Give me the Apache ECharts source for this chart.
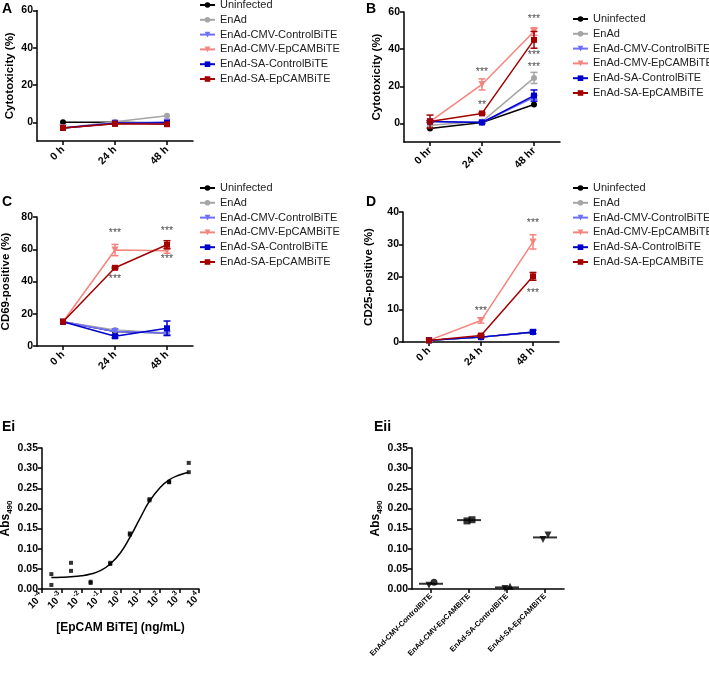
<!DOCTYPE html>
<html><head><meta charset="utf-8">
<script src="https://cdn.jsdelivr.net/npm/echarts@6/dist/echarts.min.js"></script>
<style>html,body{margin:0;padding:0;background:#fff}#c{width:709px;height:681px}</style>
</head><body><div id="c"></div>
<script>
// ---------- data ----------
const groups = ['Uninfected','EnAd','EnAd-CMV-ControlBiTE','EnAd-CMV-EpCAMBiTE','EnAd-SA-ControlBiTE','EnAd-SA-EpCAMBiTE'];
const timeH = ['0 h','24 h','48 h'];
const timeHr = ['0 hr','24 hr','48 hr'];

// Panel A: cytotoxicity (%)
const aMeans = [[0,0,-0.4],[-3,0.3,3.6],[-3,-0.5,0.2],[-3,-0.8,-0.5],[-3,-0.5,-0.2],[-3,-0.8,-1]];
const aErrs  = [[0,0,0],[0,0,0],[0,0,0],[0,0,0],[0,0,0],[0,0,0]];
// Panel B: cytotoxicity (%)
const bMeans = [[-2.7,0.5,10.2],[-1,1,24.5],[1,0.5,14],[1,21,49.5],[1,0.5,15],[1,5.4,45]];
const bErrs  = [[0,0,0],[0,0.5,3],[0,0,1],[0.5,3,2],[0.5,0.5,3],[3.5,0.5,4.5]];
// Panel C: CD69-positive (%)
const cMeans = [[15,9,8],[15,10,8],[15,9,8],[15,59.5,59],[15,6,11],[15,48.5,62.8]];
const cErrs  = [[0,0,0],[0,0.5,0],[0,0,1],[0,3.5,1.5],[0,1,4.5],[0,0.5,2.5]];
// Panel D: CD25-positive (%)
const dMeans = [[0.5,1.5,3],[0.5,1.5,3],[0.5,1.5,3],[0.5,6.6,30.8],[0.5,1.5,3.1],[0.5,2,20.2]];
const dErrs  = [[0,0,0],[0,0,0],[0,0,0],[0.3,0.8,2.2],[0,0.3,0.5],[0,0.3,1.2]];

// significance stars [category index, y, text]
const bStars = [[1,27.5,'***'],[1,10,'**'],[2,56,'***'],[2,37,'***'],[2,30.5,'***']];
const cStars = [[1,70,'***'],[1,41.3,'***'],[2,71,'***'],[2,53.7,'***']];
const dStars = [[1,9.4,'***'],[2,36.6,'***'],[2,15,'***']];

// Panel Ei: dose response
const eiConc   = [0.0003,0.0003,0.003,0.003,0.03,0.03,0.3,0.3,3,3,30,30,300,300,3000,3000];
const eiAbs    = [0.037,0.010,0.065,0.045,0.018,0.015,0.062,0.065,0.135,0.138,0.220,0.223,0.265,0.266,0.313,0.290];
const fitConc  = [0.0003,0.001,0.003,0.01,0.03,0.1,0.3,1,3,10,30,100,300,1000,3000];
const fitAbs   = [0.0286,0.0292,0.0303,0.0327,0.0371,0.0464,0.062,0.090,0.128,0.176,0.218,0.251,0.271,0.283,0.290];
const logTicks = [1e-4,1e-3,1e-2,1e-1,1,10,100,1000,10000];

// Panel Eii
const eiiCats = ['EnAd-CMV-ControlBiTE','EnAd-CMV-EpCAMBiTE','EnAd-SA-ControlBiTE','EnAd-SA-EpCAMBiTE'];
const eiiRep1 = [0.009,0.169,0.001,0.123];
const eiiRep2 = [0.017,0.172,0.007,0.134];
const eiiMean = [0.013,0.171,0.004,0.128];

// ---------- styles ----------
const TRI_DOWN = 'path://M0,0L10,0L5,9Z';
const TRI_UP = 'path://M5,0L10,9L0,9Z';
const colors = ['#000000','#a5a5a5','#6f6fff','#f4847e','#0000cc','#a30000'];
const symbols = ['circle','circle',TRI_DOWN,TRI_DOWN,'rect','rect'];
const symSizes = [6,6,7,7,6,6];
const FONT = 'Liberation Sans, Arial, sans-serif';

const grids = [
  {left:37, top:10.5, width:156, height:130.5},
  {left:404, top:12, width:156, height:130},
  {left:37, top:217, width:156, height:129},
  {left:403, top:212, width:156, height:130},
  {left:42, top:448, width:157, height:141},
  {left:412, top:448, width:152, height:141}
].map(g => Object.assign({outerBoundsMode:'none', containLabel:false}, g));

const axisLineStyle = {show:true, onZero:false, lineStyle:{color:'#000', width:1.5}};
const tickStyle = {show:true, length:4, lineStyle:{color:'#000', width:1.5}};
const tickLabel = {color:'#000', fontWeight:'bold', fontSize:10.5, fontFamily:FONT};

function catX(gi, cats){
  return {type:'category', gridIndex:gi, data:cats, boundaryGap:true,
    axisLine:axisLineStyle, axisTick:Object.assign({alignWithLabel:true}, tickStyle),
    axisLabel:Object.assign({rotate:45, margin:7, interval:0}, tickLabel), splitLine:{show:false}};
}
function valY(gi, min, max, ticks, name, gap){
  return {type:'value', gridIndex:gi, min:min, max:max,
    axisLine:axisLineStyle, axisTick:Object.assign({customValues:ticks}, tickStyle),
    axisLabel:Object.assign({customValues:ticks, margin:4}, tickLabel), splitLine:{show:false},
    name:name, nameLocation:'middle', nameRotate:90, nameGap:gap,
    nameTextStyle:{color:'#000', fontWeight:'bold', fontSize:11.5, fontFamily:FONT}};
}

const xAxes = [catX(0,timeH), catX(1,timeHr), catX(2,timeH), catX(3,timeH),
  {type:'log', gridIndex:4, logBase:10, min:1e-4, max:1e4,
   axisLine:axisLineStyle, axisTick:Object.assign({customValues:logTicks}, tickStyle),
   axisLabel:{customValues:logTicks, rotate:45, margin:6,
     formatter:v => '{b|10}{s|' + Math.round(Math.log10(v)) + '}',
     rich:{b:{fontSize:10, fontWeight:'bold', color:'#000', fontFamily:FONT},
           s:{fontSize:7, fontWeight:'bold', color:'#000', fontFamily:FONT, padding:[0,0,9,0]}}},
   splitLine:{show:false}, minorTick:{show:false},
   name:'[EpCAM BiTE] (ng/mL)', nameLocation:'middle', nameGap:33,
   nameTextStyle:{color:'#000', fontWeight:'bold', fontSize:12, fontFamily:FONT}},
  Object.assign(catX(5,eiiCats), {axisLabel:Object.assign({rotate:45, margin:6, interval:0}, tickLabel, {fontSize:7.5})})
];
const absTicks = [0,0.05,0.10,0.15,0.20,0.25,0.30,0.35];
function absY(gi, gap){
  const y = valY(gi, 0, 0.35, absTicks, '{a|Abs}{s|490}', gap);
  y.axisLabel.formatter = v => v.toFixed(2);
  y.nameTextStyle.rich = {a:{fontSize:12, fontWeight:'bold', color:'#000', fontFamily:FONT},
                          s:{fontSize:8, fontWeight:'bold', color:'#000', fontFamily:FONT, padding:[7,0,0,0]}};
  return y;
}
const yAxes = [
  valY(0,-10,60,[0,20,40,60],'Cytotoxicity (%)',21),
  valY(1,-10,60,[0,20,40,60],'Cytotoxicity (%)',21),
  valY(2,0,80,[0,20,40,60,80],'CD69-positive (%)',25),
  valY(3,0,40,[0,10,20,30,40],'CD25-positive (%)',28),
  absY(4,28), absY(5,26)
];

const series = [];
function addPanel(gi, means, errs){
  groups.forEach((g, i) => {
    series.push({type:'line', name:g, xAxisIndex:gi, yAxisIndex:gi, data:means[i],
      symbol:symbols[i], symbolSize:symSizes[i], showAllSymbol:true,
      lineStyle:{color:colors[i], width:1.5}, itemStyle:{color:colors[i]}, z:2+i*0.01,
      emphasis:{disabled:true}, animation:false});
    const errData = means[i].map((m, k) => [k, m, errs[i][k]]).filter(d => d[2] > 0);
    series.push({type:'custom', name:'err'+gi+'-'+i, xAxisIndex:gi, yAxisIndex:gi, data:errData,
      z:2+i*0.01, animation:false, silent:true,
      renderItem:(params, api) => {
        const x = api.value(0), m = api.value(1), e = api.value(2);
        const top = api.coord([x, m + e]), bot = api.coord([x, m - e]);
        const w = 3.5, st = {stroke:colors[i], lineWidth:1.5};
        return {type:'group', children:[
          {type:'line', shape:{x1:top[0], y1:top[1], x2:bot[0], y2:bot[1]}, style:st},
          {type:'line', shape:{x1:top[0]-w, y1:top[1], x2:top[0]+w, y2:top[1]}, style:st},
          {type:'line', shape:{x1:bot[0]-w, y1:bot[1], x2:bot[0]+w, y2:bot[1]}, style:st}
        ]};
      }});
  });
}
addPanel(0, aMeans, aErrs);
addPanel(1, bMeans, bErrs);
addPanel(2, cMeans, cErrs);
addPanel(3, dMeans, dErrs);

function addStars(gi, stars){
  series.push({type:'scatter', name:'stars'+gi, xAxisIndex:gi, yAxisIndex:gi, data:stars,
    symbolSize:0, silent:true, animation:false, z:5,
    label:{show:true, position:'inside', formatter:p => p.data[2], color:'#222', fontSize:10.5, fontFamily:FONT}});
}
addStars(1,bStars); addStars(2,cStars); addStars(3,dStars);

// Ei
series.push({type:'line', name:'fit', xAxisIndex:4, yAxisIndex:4, data:fitConc.map((c,k)=>[c, fitAbs[k]]),
  smooth:true, showSymbol:false, lineStyle:{color:'#000', width:1.5}, animation:false, silent:true});
series.push({type:'scatter', name:'ei', xAxisIndex:4, yAxisIndex:4, data:eiConc.map((c,k)=>[c, eiAbs[k]]),
  symbol:'rect', symbolSize:4, itemStyle:{color:'#000'}, animation:false, silent:true});

// Eii
const rep1Sym = [TRI_DOWN,'rect',TRI_DOWN,TRI_DOWN];
const rep2Sym = ['circle','rect',TRI_UP,TRI_DOWN];
series.push({type:'scatter', name:'eiiMean', xAxisIndex:5, yAxisIndex:5, data:eiiMean.map((v,k)=>[k,v]),
  symbol:'rect', symbolSize:[24,2], itemStyle:{color:'#000'}, animation:false, silent:true, z:3});
series.push({type:'scatter', name:'eii1', xAxisIndex:5, yAxisIndex:5,
  data:eiiRep1.map((v,k)=>({value:[k,v], symbol:rep1Sym[k], symbolOffset:[-2,0]})),
  symbolSize:7, itemStyle:{color:'#000'}, animation:false, silent:true, z:4});
series.push({type:'scatter', name:'eii2', xAxisIndex:5, yAxisIndex:5,
  data:eiiRep2.map((v,k)=>({value:[k,v], symbol:rep2Sym[k], symbolOffset:[3,0]})),
  symbolSize:7, itemStyle:{color:'#000'}, animation:false, silent:true, z:4});

function legend(left, top){
  return {data:groups, left:left, top:top, orient:'vertical', itemWidth:15, itemHeight:7, itemGap:2.8,
    padding:0, selectedMode:false,
    textStyle:{color:'#222', fontSize:11, fontFamily:FONT, lineHeight:12}};
}

function label(text, x, y){
  return {type:'text', left:x, top:y, style:{text:text, fontSize:14, fontWeight:'bold', fill:'#000', fontFamily:FONT}};
}

const chart = echarts.init(document.getElementById('c'), null, {renderer:'canvas'});
chart.setOption({
  animation:false,
  backgroundColor:'#fff',
  grid:grids, xAxis:xAxes, yAxis:yAxes, series:series,
  legend:[legend(199,-1), legend(572,13), legend(199,182), legend(572,182)],
  graphic:[label('A',2,2), label('B',366,2), label('C',2,195), label('D',366,195), label('Ei',2,420), label('Eii',374,420)]
});
</script></body></html>
